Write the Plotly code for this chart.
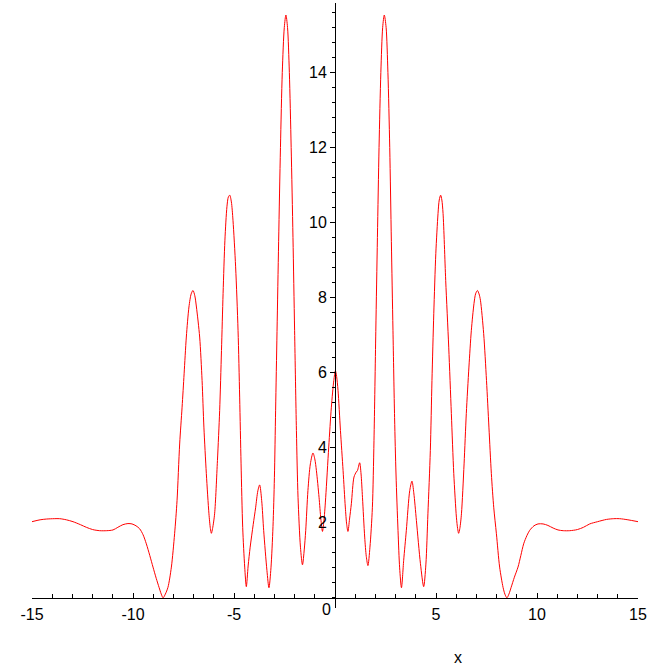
import plotly.graph_objects as go

# Values (x, y pairs along the curve)
x_vals = [
    -15.0, -14.6, -14.29, -13.9, -13.63, -13.3, -12.97, -12.6, -12.31, -12.0,
    -11.65, -11.3, -10.99, -10.75, -10.5, -10.25, -10.05, -9.85, -9.67, -9.5,
    -9.34, -9.17, -9.01, -8.85, -8.71, -8.6, -8.51, -8.4, -8.27, -8.10,
    -7.94, -7.82, -7.69, -7.57, -7.47, -7.36, -7.23, -7.12, -7.03, -6.94,
    -6.86, -6.70, -6.58, -6.49, -6.37, -6.24, -6.17, -6.12, -6.06, -5.96,
    -5.82, -5.71, -5.62, -5.54, -5.45, -5.35, -5.28, -5.21, -5.13, -5.05,
    -4.92, -4.80, -4.72, -4.65, -4.57, -4.47, -4.39, -4.30, -4.20, -4.05,
    -3.93, -3.82, -3.73, -3.63, -3.53, -3.37, -3.27, -3.17, -3.07, -3.00,
    -2.94, -2.87, -2.79, -2.70, -2.61, -2.51, -2.43, -2.35, -2.26, -2.17,
    -2.08, -2.00, -1.91, -1.83, -1.71, -1.61, -1.52, -1.45, -1.34, -1.22,
    -1.09, -1.00, -0.92, -0.79, -0.70, -0.62, -0.54, -0.46, -0.31, -0.18,
    -0.06, 0.02, 0.08, 0.15, 0.27, 0.40, 0.51, 0.58, 0.64, 0.72,
    0.81, 0.94, 1.05, 1.11, 1.22, 1.29, 1.36, 1.47, 1.55, 1.63,
    1.73, 1.85, 1.93, 2.02, 2.10, 2.18, 2.27, 2.36, 2.44, 2.53,
    2.62, 2.71, 2.79, 2.87, 2.95, 3.02, 3.12, 3.20, 3.29, 3.40,
    3.53, 3.70, 3.81, 3.90, 4.03, 4.23, 4.39, 4.50, 4.60, 4.72,
    4.80, 4.89, 4.99, 5.10, 5.16, 5.23, 5.29, 5.35, 5.48, 5.63,
    5.76, 5.88, 6.01, 6.07, 6.12, 6.18, 6.26, 6.39, 6.50, 6.63,
    6.75, 6.88, 6.96, 7.05, 7.13, 7.20, 7.36, 7.50, 7.62, 7.74,
    7.86, 7.99, 8.15, 8.32, 8.41, 8.51, 8.61, 8.72, 8.88, 9.06,
    9.2, 9.34, 9.5, 9.64, 9.85, 10.05, 10.3, 10.54, 10.8, 11.04,
    11.3, 11.62, 12.0, 12.3, 12.61, 13.0, 13.44, 13.8, 14.09, 14.5,
    15.0,
]
y_vals = [
    2.03, 2.08, 2.10, 2.11, 2.11, 2.08, 2.03, 1.95, 1.88, 1.82,
    1.79, 1.79, 1.81, 1.88, 1.95, 1.98, 1.97, 1.92, 1.84, 1.68,
    1.44, 1.13, 0.82, 0.52, 0.28, 0.10, 0.0, 0.10, 0.28, 0.82,
    1.71, 2.59, 4.10, 5.08, 5.97, 6.95, 7.75, 8.10, 8.19, 8.05,
    7.75, 6.95, 5.79, 4.55, 3.31, 2.24, 1.85, 1.72, 1.85, 2.24,
    3.66, 4.99, 6.59, 8.11, 9.53, 10.42, 10.68, 10.73, 10.55, 10.06,
    8.82, 7.13, 5.35, 3.57, 1.88, 0.82, 0.30, 0.85, 1.35, 1.95,
    2.40, 2.85, 3.01, 2.60, 1.79, 0.73, 0.27, 0.80, 1.90, 3.20,
    5.00, 7.10, 9.50, 12.0, 14.0, 15.2, 15.53, 15.2, 14.0, 12.0,
    9.60, 7.13, 4.46, 2.68, 1.35, 0.88, 1.30, 1.79, 2.86, 3.57,
    3.86, 3.70, 3.39, 2.68, 2.10, 1.77, 2.10, 2.68, 4.02, 5.08,
    5.79, 6.05, 5.90, 5.53, 4.46, 3.39, 2.42, 1.95, 1.77, 2.10,
    2.51, 3.22, 3.35, 3.39, 3.60, 3.30, 2.68, 1.62, 1.10, 0.86,
    1.35, 2.40, 4.20, 7.10, 9.60, 12.0, 14.0, 15.2, 15.53, 15.2,
    14.0, 12.0, 9.50, 7.13, 4.80, 3.30, 1.79, 0.80, 0.27, 1.00,
    1.79, 2.86, 3.11, 2.80, 2.06, 0.91, 0.30, 0.90, 2.24, 3.93,
    5.79, 7.57, 9.17, 10.24, 10.6, 10.73, 10.6, 10.24, 8.46, 6.68,
    4.91, 3.31, 2.15, 1.85, 1.72, 1.85, 2.24, 3.57, 4.91, 6.15,
    7.13, 7.84, 8.10, 8.19, 8.10, 7.93, 7.04, 5.79, 4.55, 3.31,
    2.40, 1.71, 0.82, 0.28, 0.10, 0.0, 0.10, 0.28, 0.55, 0.82,
    1.13, 1.44, 1.66, 1.80, 1.92, 1.97, 1.97, 1.93, 1.86, 1.81,
    1.79, 1.79, 1.82, 1.88, 1.97, 2.03, 2.09, 2.11, 2.11, 2.08,
    2.03,
]

x_ticks = [-15, -10, -5, 5, 10, 15]
y_ticks = [2, 4, 6, 8, 10, 12, 14]

x_range = [-15, 15]
y_range = [-0.27, 15.85]

fig = go.Figure()
fig.add_trace(go.Scatter(
    x=x_vals, y=y_vals, mode="lines",
    line=dict(color="#ff0000", width=1, shape="spline", smoothing=0.8),
    hoverinfo="skip", showlegend=False,
))

font = dict(family="Liberation Sans, Arial, sans-serif", size=16, color="black")

fig.update_layout(
    width=669, height=669,
    margin=dict(l=32, r=31, t=3, b=61),
    paper_bgcolor="white", plot_bgcolor="white",
    xaxis=dict(
        range=x_range, showgrid=False, zeroline=False,
        showline=True, linecolor="black", linewidth=1,
        anchor="free", position=(0 - y_range[0]) / (y_range[1] - y_range[0]),
        tickmode="array", tickvals=x_ticks, ticktext=[str(v) for v in x_ticks],
        ticks="inside", ticklen=5, tickcolor="black",
        ticklabelstandoff=2,
        minor=dict(dtick=1, ticks="inside", ticklen=4, tickcolor="black", showgrid=False),
        tickfont=font,
    ),
    yaxis=dict(
        range=y_range, showgrid=False, zeroline=False,
        showline=True, linecolor="black", linewidth=1,
        anchor="free", position=0.5, side="left",
        tickmode="array", tickvals=y_ticks, ticktext=[str(v) for v in y_ticks],
        ticks="outside", ticklen=5, tickcolor="black",
        minor=dict(tick0=0, dtick=0.4, ticks="outside", ticklen=3, tickcolor="black", showgrid=False),
        tickfont=font,
    ),
    annotations=[
        dict(x=-0.1, y=0, xref="x", yref="y", text="0", showarrow=False,
             xanchor="right", yanchor="top", yshift=-1, font=font),
        dict(x=6.1, y=0, xref="x", yref="y", text="x", showarrow=False,
             xanchor="center", yanchor="middle", yshift=-60, font=font),
    ],
)

fig.write_html("out.html")
